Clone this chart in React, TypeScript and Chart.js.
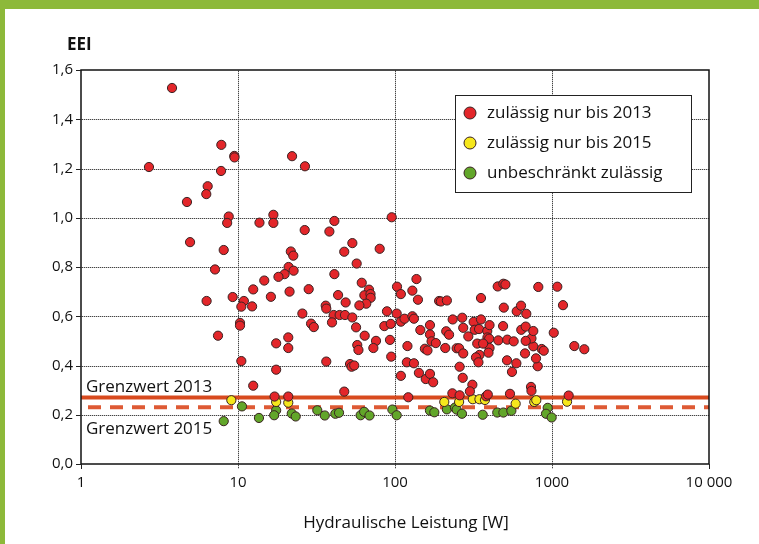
import React, { useEffect, useRef } from 'react';
import { Chart, registerables } from 'chart.js';

Chart.register(...registerables);

// ---------- data ----------
const xTickValues = [1, 10, 100, 1000, 10000];
const xTickLabels = ['1', '10', '100', '1000', '10 000'];
const yAxisTitle = 'EEI';
const xAxisTitle = 'Hydraulische Leistung [W]';
const seriesLabels = ['zulässig nur bis 2013', 'zulässig nur bis 2015', 'unbeschränkt zulässig'];
const limitLabels = ['Grenzwert 2013', 'Grenzwert 2015'];
const limitValues = [0.27, 0.23];

const redX = [3.8, 2.71, 7.83, 9.47, 9.5, 7.8, 6.41, 6.28, 4.73, 8.73, 8.53, 13.7, 4.95, 8.11, 7.14, 12.5, 9.25, 6.31, 10.9, 10.5, 12.3, 10.3, 10.3, 7.46, 10.5, 12.5,
  26.7, 22.1, 16.8, 16.8, 41.1, 95.3, 26.6, 38.2, 53.5, 47.5, 79.9, 21.7, 22.5, 57, 21, 22.6, 19.8, 18.1, 41.1, 14.7, 61.4, 28.2, 21.3, 68.3, 16.2, 43.4, 63.8, 69.8, 70, 65.6, 48.5, 36.2, 36.5, 59.3, 88.9, 103, 109, 102.5, 25.7, 40.7, 44.4, 48, 53.5, 29.2, 30.4, 39.7, 56.5, 85.5, 94, 109, 115, 129, 132, 137, 129, 140, 191, 145, 167, 167, 171, 155, 161, 182, 64.1, 57.5, 58.5, 75.7, 72.8, 92.9, 94.6, 120, 119, 132, 142, 157, 167, 175, 109, 17.5, 20.9, 20.9, 17.5, 36.5, 51.7, 52.9, 55, 47.5, 17.1, 20.9, 121.5,
  196, 214, 353, 451, 490, 505, 818, 1081, 1175, 493, 596, 635, 686, 233, 268, 272, 317, 322, 353, 343, 387, 400, 388, 398, 400, 394, 334, 364, 345, 328, 340, 293, 247, 256, 272, 209, 258, 270, 311, 232, 258, 300, 380, 390, 540, 735, 740, 811, 791, 860, 886, 760, 740, 680, 673, 637, 680, 760, 517, 593, 556, 455, 519, 570, 1026, 1387, 1606, 1277, 212, 221, 488];
const redY = [1.527, 1.206, 1.296, 1.251, 1.245, 1.19, 1.128, 1.096, 1.064, 1.005, 0.979, 0.98, 0.901, 0.869, 0.79, 0.709, 0.678, 0.662, 0.662, 0.639, 0.64, 0.573, 0.562, 0.521, 0.418, 0.318,
  1.209, 1.25, 1.012, 0.979, 0.987, 1.002, 0.95, 0.944, 0.897, 0.862, 0.874, 0.863, 0.846, 0.814, 0.8, 0.785, 0.771, 0.76, 0.771, 0.745, 0.736, 0.71, 0.7, 0.708, 0.679, 0.686, 0.685, 0.69, 0.675, 0.651, 0.656, 0.643, 0.631, 0.644, 0.62, 0.72, 0.69, 0.611, 0.611, 0.605, 0.605, 0.605, 0.595, 0.57, 0.556, 0.575, 0.555, 0.56, 0.569, 0.578, 0.59, 0.6, 0.59, 0.751, 0.704, 0.667, 0.662, 0.544, 0.564, 0.526, 0.498, 0.468, 0.461, 0.491, 0.521, 0.483, 0.463, 0.5, 0.471, 0.504, 0.436, 0.479, 0.413, 0.409, 0.37, 0.345, 0.366, 0.332, 0.358, 0.49, 0.514, 0.471, 0.383, 0.416, 0.406, 0.395, 0.4, 0.294, 0.274, 0.274, 0.271,
  0.66, 0.664, 0.674, 0.721, 0.732, 0.729, 0.719, 0.72, 0.645, 0.635, 0.62, 0.643, 0.61, 0.587, 0.594, 0.553, 0.577, 0.545, 0.587, 0.548, 0.54, 0.564, 0.514, 0.509, 0.471, 0.452, 0.489, 0.489, 0.443, 0.433, 0.413, 0.518, 0.47, 0.47, 0.449, 0.471, 0.395, 0.35, 0.322, 0.287, 0.279, 0.295, 0.275, 0.282, 0.285, 0.313, 0.297, 0.397, 0.429, 0.467, 0.46, 0.478, 0.51, 0.5, 0.449, 0.545, 0.558, 0.54, 0.421, 0.409, 0.374, 0.502, 0.505, 0.498, 0.533, 0.479, 0.466, 0.278, 0.539, 0.525, 0.56];

const yellowX = [9.07, 17.5, 20.9, 206, 256, 313, 345, 374, 587, 771, 794, 1247];
const yellowY = [0.259, 0.252, 0.249, 0.252, 0.252, 0.263, 0.263, 0.26, 0.245, 0.252, 0.259, 0.253];

const greenX = [8.11, 10.6, 13.6, 17.5, 17, 22, 23.3, 32, 35.7, 41.7, 44, 60.4, 63.6, 68.8, 96.2, 102.5, 167, 178, 214, 241, 247, 267, 362, 448, 490, 551, 939, 916, 995];
const greenY = [0.174, 0.234, 0.187, 0.218, 0.198, 0.205, 0.193, 0.218, 0.197, 0.204, 0.208, 0.198, 0.212, 0.197, 0.221, 0.198, 0.217, 0.21, 0.222, 0.229, 0.221, 0.204, 0.2, 0.209, 0.209, 0.216, 0.228, 0.204, 0.189];

// ---------- styles ----------
const FRAME_GREEN = '#8DB93A';
const COLORS = ['#E3262A', '#F6E71C', '#62A62A'];
const POINT_BORDER = '#3a2222';
const LIMIT_COLOR = '#D84A1E';
const GRID_COLOR = '#444444';
const FONT = '"Open Sans", "DejaVu Sans", sans-serif';

const pairs = (xs: number[], ys: number[]) => xs.map((x, i) => ({ x, y: ys[i] }));

const decorPlugin = {
  id: 'decor',
  beforeDraw(chart: any) {
    const { ctx, width, height } = chart;
    ctx.save();
    ctx.fillStyle = '#ffffff';
    ctx.fillRect(0, 0, width, height);
    ctx.fillStyle = FRAME_GREEN;
    ctx.fillRect(0, 0, width, 9);
    ctx.fillRect(0, 0, 5, height);
    ctx.restore();
  },
  beforeDatasetsDraw(chart: any) {
    const { ctx, chartArea, scales } = chart;
    const { left, right, top, bottom } = chartArea;
    const y = scales.y;
    const x = scales.x;
    ctx.save();
    // grid: faint solid base + dark dots on top
    const yVals = [0.2, 0.4, 0.6, 0.8, 1.0, 1.2, 1.4];
    ctx.fillStyle = '#c8c8c8';
    yVals.forEach((v) => {
      const py = Math.round(y.getPixelForValue(v));
      ctx.fillRect(left, py, right - left, 1);
    });
    xTickValues.slice(1, -1).forEach((v) => {
      const px = Math.round(x.getPixelForValue(v));
      ctx.fillRect(px, top, 1, bottom + 5 - top);
    });
    ctx.fillStyle = GRID_COLOR;
    yVals.forEach((v) => {
      const py = Math.round(y.getPixelForValue(v));
      for (let px = Math.round(left) + 1; px < right; px += 2) ctx.fillRect(px, py, 1, 1);
    });
    xTickValues.slice(1, -1).forEach((v) => {
      const px = Math.round(x.getPixelForValue(v));
      for (let py = Math.round(top) + 1; py < bottom + 5; py += 2) ctx.fillRect(px, py, 1, 1);
    });
    // 2013 solid
    ctx.strokeStyle = LIMIT_COLOR;
    ctx.lineWidth = 4;
    let py = y.getPixelForValue(limitValues[0]);
    ctx.beginPath();
    ctx.moveTo(left, py);
    ctx.lineTo(right, py);
    ctx.stroke();
    // 2015 dashed
    py = y.getPixelForValue(limitValues[1]);
    ctx.strokeStyle = '#DE5A34';
    ctx.setLineDash([13, 9]);
    ctx.lineDashOffset = -7;
    ctx.beginPath();
    ctx.moveTo(left, py);
    ctx.lineTo(right, py);
    ctx.stroke();
    ctx.setLineDash([]);
    // labels
    ctx.fillStyle = '#111';
    ctx.font = `17px ${FONT}`;
    ctx.textAlign = 'left';
    ctx.textBaseline = 'alphabetic';
    ctx.fillText(limitLabels[0], left + 5, y.getPixelForValue(limitValues[0]) - 6);
    ctx.fillText(limitLabels[1], left + 5, y.getPixelForValue(limitValues[1]) + 27);
    ctx.restore();
  },
  afterDraw(chart: any) {
    const { ctx, chartArea, scales } = chart;
    const { left, right, top, bottom } = chartArea;
    ctx.save();
    // frame of plot
    ctx.strokeStyle = '#111';
    ctx.lineWidth = 1.5;
    ctx.strokeRect(left, top, right - left, bottom - top);
    // tick marks
    ctx.fillStyle = '#222';
    scales.y.ticks.forEach((t: any) => {
      const py = Math.round(scales.y.getPixelForValue(t.value));
      ctx.fillRect(left - 5, py, 5, 1);
    });
    [1, 10000].forEach((v) => {
      const px = Math.round(scales.x.getPixelForValue(v));
      ctx.fillRect(px, bottom, 1, 5);
    });
    // y title
    ctx.fillStyle = '#111';
    ctx.font = `bold 17px ${FONT}`;
    ctx.textAlign = 'left';
    ctx.textBaseline = 'middle';
    ctx.fillText(yAxisTitle, 67, 45);
    // x title
    ctx.font = `17px ${FONT}`;
    ctx.textAlign = 'center';
    ctx.fillText(xAxisTitle, 406, 523);
    // legend
    const bx = 455.5, by = 95.5, bw = 236, bh = 97;
    ctx.fillStyle = '#fff';
    ctx.fillRect(bx, by, bw, bh);
    ctx.strokeStyle = '#222';
    ctx.lineWidth = 1;
    ctx.strokeRect(bx, by, bw, bh);
    ctx.font = `17px ${FONT}`;
    ctx.textAlign = 'left';
    ctx.textBaseline = 'middle';
    seriesLabels.forEach((lab, i) => {
      const cy = 113 + i * 30;
      ctx.beginPath();
      ctx.arc(470, cy, 6, 0, Math.PI * 2);
      ctx.fillStyle = COLORS[i];
      ctx.fill();
      ctx.strokeStyle = POINT_BORDER;
      ctx.stroke();
      ctx.fillStyle = '#111';
      ctx.fillText(lab, 487, cy);
    });
    ctx.restore();
  },
};

export default function App() {
  const ref = useRef<HTMLCanvasElement | null>(null);
  useEffect(() => {
    document.body.style.margin = '0';
    if (!ref.current) return;
    const mk = (label: string, xs: number[], ys: number[], color: string) => ({
      label,
      data: pairs(xs, ys),
      backgroundColor: color,
      borderColor: POINT_BORDER,
      borderWidth: 1,
      pointRadius: 4.6,
      pointHoverRadius: 4.6,
    });
    const chart = new Chart(ref.current, {
      type: 'scatter',
      data: {
        datasets: [
          mk(seriesLabels[0], redX, redY, COLORS[0]),
          mk(seriesLabels[1], yellowX, yellowY, COLORS[1]),
          mk(seriesLabels[2], greenX, greenY, COLORS[2]),
        ],
      },
      options: {
        responsive: false,
        maintainAspectRatio: false,
        animation: false,
        events: [],
        layout: { padding: { top: 70, right: 50, left: 0, bottom: 0 } },
        plugins: { legend: { display: false }, tooltip: { enabled: false } },
        scales: {
          x: {
            type: 'logarithmic',
            min: 1,
            max: 10000,
            afterBuildTicks: (s: any) => { s.ticks = xTickValues.map((v) => ({ value: v })); },
            afterFit: (s: any) => { s.height = 80; },
            ticks: {
              autoSkip: false,
              maxRotation: 0,
              padding: 10,
              color: '#111',
              font: { family: FONT, size: 15 },
              callback: (v: any) => { const i = xTickValues.indexOf(Number(v)); return i >= 0 ? xTickLabels[i] : ''; },
            },
            grid: { display: false, drawTicks: false },
            border: { display: false },
          },
          y: {
            type: 'linear',
            min: 0,
            max: 1.6,
            afterFit: (s: any) => { s.width = 81; },
            ticks: {
              stepSize: 0.2,
              padding: 8,
              color: '#111',
              font: { family: FONT, size: 15 },
              callback: (v: any) => Number(v).toFixed(1).replace('.', ','),
            },
            grid: { display: false, drawTicks: false },
            border: { display: false },
          },
        },
      },
      plugins: [decorPlugin],
    });
    return () => chart.destroy();
  }, []);
  return (
    <div style={{ width: 759, height: 544 }}>
      <canvas ref={ref} width={759} height={544} style={{ display: 'block', width: 759, height: 544 }} />
    </div>
  );
}
